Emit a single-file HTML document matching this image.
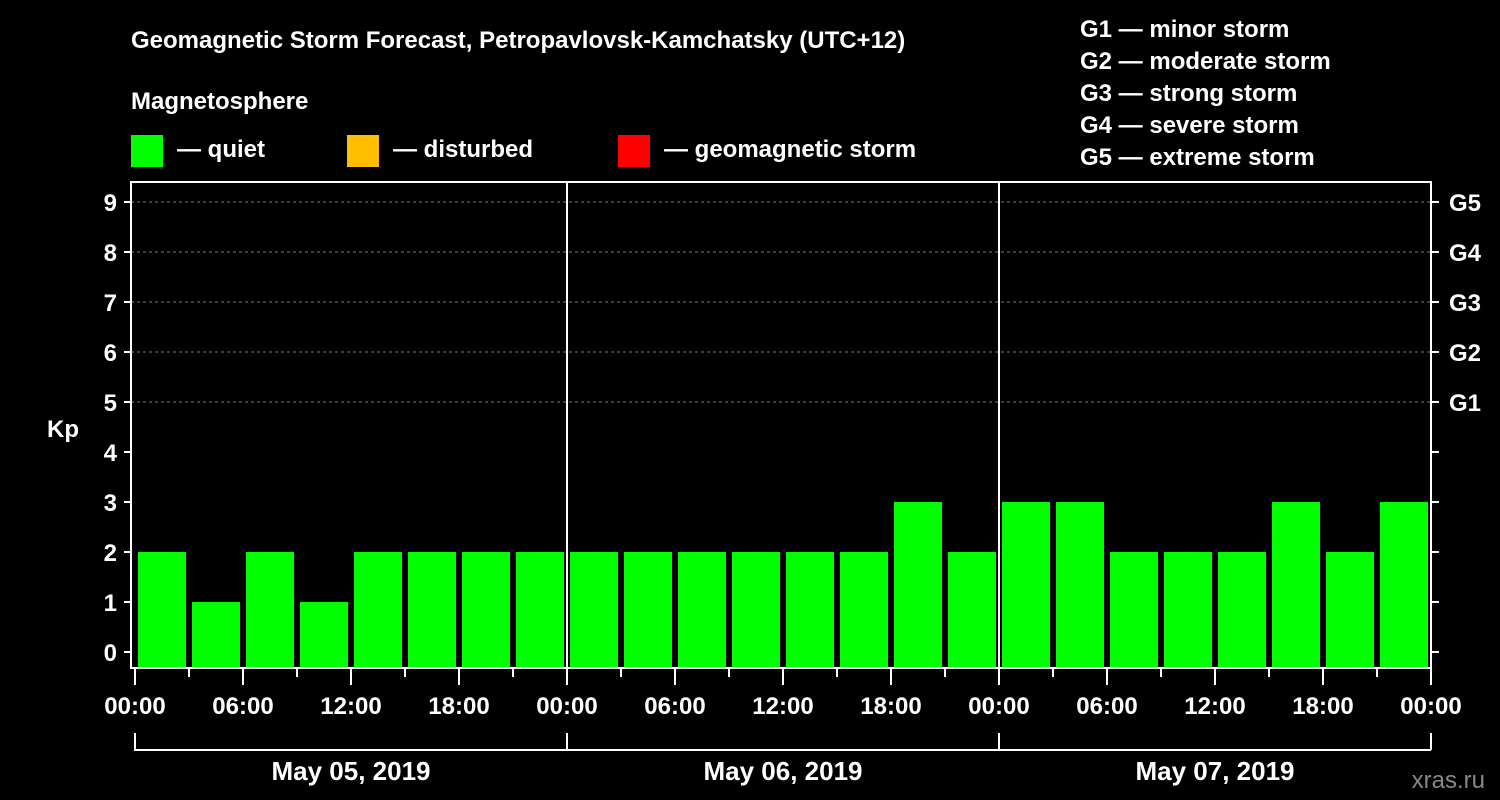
<!DOCTYPE html>
<html><head><meta charset="utf-8"><style>
body{margin:0;background:#000;}
svg{display:block;font-family:"Liberation Sans",Arial,sans-serif;font-weight:bold;}
</style></head><body>
<svg id="c" width="1500" height="800" viewBox="0 0 1500 800">
<rect width="1500" height="800" fill="#000"/>
<g fill="#fff" font-size="24">
<text x="131" y="48">Geomagnetic Storm Forecast, Petropavlovsk-Kamchatsky (UTC+12)</text>
<text x="131" y="109">Magnetosphere</text>
<g><rect x="131" y="135" width="32" height="32" fill="#00ff00"/><text x="177" y="157">— quiet</text></g>
<g><rect x="347" y="135" width="32" height="32" fill="#ffbf00"/><text x="393" y="157">— disturbed</text></g>
<g><rect x="618" y="135" width="32" height="32" fill="#ff0000"/><text x="664" y="157">— geomagnetic storm</text></g>
<g>
<text x="1080" y="37">G1 — minor storm</text>
<text x="1080" y="69">G2 — moderate storm</text>
<text x="1080" y="101">G3 — strong storm</text>
<text x="1080" y="133">G4 — severe storm</text>
<text x="1080" y="165">G5 — extreme storm</text>
</g>
<text x="63" y="437" text-anchor="middle">Kp</text>
<text x="1485" y="788" text-anchor="end" fill="#888" font-weight="normal">xras.ru</text>
</g>
<g id="plot"></g>
</svg>
<script>
const kpValues=[2,1,2,1,2,2,2,2, 2,2,2,2,2,2,3,2, 3,3,2,2,2,3,2,3];
const dayLabels=["May 05, 2019","May 06, 2019","May 07, 2019"];
const hourLabels=["00:00","06:00","12:00","18:00"];
const yTicks=[0,1,2,3,4,5,6,7,8,9];
const gLabels=["G1","G2","G3","G4","G5"];
const gLevels=[5,6,7,8,9];
const NS="http://www.w3.org/2000/svg";
const g=document.getElementById('plot');
const X0=135,SLOT=54,Y0=652,UNIT=50,BOTTOM=668,TOP=182,RIGHT=1431;
const xs=i=>X0+i*SLOT;
const ys=v=>Y0-v*UNIT;
function el(t,a,p){const e=document.createElementNS(NS,t);for(const k in a)e.setAttribute(k,a[k]);(p||g).appendChild(e);return e;}
// gridlines
gLevels.forEach(v=>{
const l=el('line',{x1:131,x2:RIGHT,y1:ys(v),y2:ys(v),stroke:'#777','stroke-dasharray':'3,3'});


});
// bars
kpValues.forEach((v,i)=>{
const col=v>=5?'#ff0000':(v>=4?'#ffbf00':'#00ff00');
const r=el('rect',{x:xs(i)+3,y:ys(v),width:SLOT-6,height:BOTTOM-ys(v),fill:col});


});
// frame
el('rect',{x:131,y:TOP,width:RIGHT-131,height:BOTTOM-TOP,fill:'none',stroke:'#fff','stroke-width':2});
for(let d=1;d<3;d++){el('line',{x1:xs(d*8),x2:xs(d*8),y1:TOP,y2:BOTTOM,stroke:'#fff','stroke-width':2});}
// y ticks
yTicks.forEach(v=>{
el('line',{x1:124,x2:131,y1:ys(v),y2:ys(v),stroke:'#fff','stroke-width':2});
el('line',{x1:RIGHT,x2:RIGHT+8,y1:ys(v),y2:ys(v),stroke:'#fff','stroke-width':2});
const t=el('text',{x:117,y:ys(v)+9,'text-anchor':'end',fill:'#fff','font-size':24});
t.textContent=v;


});
gLabels.forEach((s,i)=>{
const t=el('text',{x:1449,y:ys(gLevels[i])+9,fill:'#fff','font-size':24});
t.textContent=s;


});
// x ticks
for(let i=0;i<=24;i++){
const major=i%2===0;
el('line',{x1:xs(i),x2:xs(i),y1:BOTTOM,y2:major?685:677,stroke:'#fff','stroke-width':2});
if(major){
const t=el('text',{x:xs(i),y:714,'text-anchor':'middle',fill:'#fff','font-size':24});
t.textContent=hourLabels[(i/2)%4];


}
}
// day brackets
dayLabels.forEach((s,d)=>{
const a=xs(d*8),b=xs(d*8+8);
el('path',{d:`M${a},733V750H${b}`+(d==2?`M${b},733V750`:''),stroke:'#fff','stroke-width':2,fill:'none'});
const t=el('text',{x:(a+b)/2,y:780,'text-anchor':'middle',fill:'#fff','font-size':26});
t.textContent=s;


});
</script>
</body></html>
